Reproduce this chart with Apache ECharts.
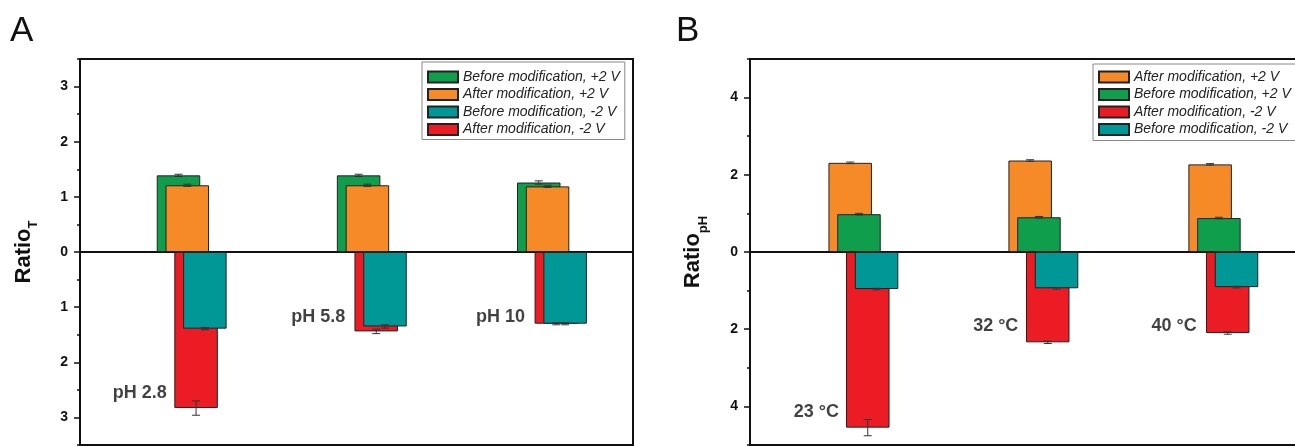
<!DOCTYPE html>
<html><head><meta charset="utf-8">
<script src="https://cdn.jsdelivr.net/npm/echarts@6/dist/echarts.min.js"></script>
<style>html,body{margin:0;padding:0;background:#fff}#c{width:1295px;height:446px}</style>
</head><body><div id="c"></div>
<script>
// ---------------- data ----------------
const groupPos = [1, 2, 3];
const categoriesA = ['pH 2.8', 'pH 5.8', 'pH 10'];
const categoriesB = ['23 °C', '32 °C', '40 °C'];
const NAME_BP = 'Before modification, +2 V';
const NAME_AP = 'After modification, +2 V';
const NAME_BM = 'Before modification, -2 V';
const NAME_AM = 'After modification, -2 V';

// Panel A: Ratio_T (negative = -2 V direction)
const A_beforePlus = [1.39, 1.39, 1.26];
const A_afterPlus = [1.21, 1.21, 1.19];
const A_afterMinus = [-2.83, -1.44, -1.30];
const A_beforeMinus = [-1.39, -1.35, -1.30];
const A_beforePlusErr = [0.02, 0.02, 0.03];
const A_afterPlusErr = [0.02, 0.02, 0.02];
const A_afterMinusErr = [0.13, 0.04, 0.02];
const A_beforeMinusErr = [0.02, 0.03, 0.02];

// Panel B: Ratio_pH
const B_afterPlus = [2.31, 2.37, 2.27];
const B_beforePlus = [0.98, 0.90, 0.88];
const B_afterMinus = [-4.55, -2.34, -2.10];
const B_beforeMinus = [-0.96, -0.94, -0.91];
const B_afterPlusErr = [0.02, 0.02, 0.02];
const B_beforePlusErr = [0.02, 0.02, 0.02];
const B_afterMinusErr = [0.21, 0.03, 0.03];
const B_beforeMinusErr = [0.02, 0.02, 0.02];

// tick values
const A_majorTicks = [-3, -2, -1, 0, 1, 2, 3];
const A_minorTicks = [-3.5, -2.5, -1.5, -0.5, 0.5, 1.5, 2.5, 3.5];
const B_majorTicks = [-4, -2, 0, 2, 4];
const B_minorTicks = [-5, -3, -1, 1, 3, 5];

// ---------------- style ----------------
const FONT = '"Liberation Sans", Arial, Helvetica, sans-serif';
const TXT = '#111';
const C_GREEN = '#0f9e4c', C_ORANGE = '#f58a26', C_TEAL = '#009797', C_RED = '#ec1c24';
const BAR_W = 43.5, BAR_STEP = 8.79;
const barGap = ((BAR_STEP - BAR_W) / BAR_W * 100).toFixed(2) + '%';
const total = BAR_W + 3 * BAR_STEP;
const offsetOf = k => -total / 2 + BAR_W / 2 + k * BAR_STEP;
const labelOffA = [[-24.5, -15.5], [-26, -14.5], [-26.5, -6.5]];
const labelOffB = [[-24, -15.5], [-24.5, -16.5], [-26, -7.5]];

function pairs(vals) { return vals.map((v, i) => [groupPos[i], v]); }

function bar(name, color, vals, p) {
  return {
    type: 'bar', name, xAxisIndex: p, yAxisIndex: p * 2,
    data: pairs(vals), barWidth: BAR_W, barGap: barGap,
    itemStyle: { color, borderColor: '#222', borderWidth: 1 }, z: 2, silent: true
  };
}
function errBar(vals, errs, k, p) {
  const off = offsetOf(k);
  return {
    type: 'custom', xAxisIndex: p, yAxisIndex: p * 2, z: 5, silent: true,
    data: vals.map((v, i) => [groupPos[i], v, errs[i]]),
    encode: { x: 0, y: 1 },
    renderItem: function (params, api) {
      const x = api.value(0), y = api.value(1), e = api.value(2);
      const hi = api.coord([x, y + e]), lo = api.coord([x, y - e]);
      const cx = hi[0] + off, w = 4;
      const st = { stroke: '#333', lineWidth: 1 };
      return { type: 'group', children: [
        { type: 'line', shape: { x1: cx, y1: hi[1], x2: cx, y2: lo[1] }, style: st },
        { type: 'line', shape: { x1: cx - w, y1: hi[1], x2: cx + w, y2: hi[1] }, style: st },
        { type: 'line', shape: { x1: cx - w, y1: lo[1], x2: cx + w, y2: lo[1] }, style: st }
      ]};
    }
  };
}
function labels(cats, vals, offs, p) {
  return {
    type: 'scatter', xAxisIndex: p, yAxisIndex: p * 2, z: 6, silent: true,
    symbolSize: 1, itemStyle: { color: 'rgba(0,0,0,0)' },
    data: vals.map((v, i) => ({
      value: [groupPos[i], v],
      label: { offset: offs[i] }
    })),
    label: {
      show: true, position: 'left', distance: 0,
      formatter: prm => cats[prm.dataIndex],
      fontFamily: FONT, fontSize: 18, fontWeight: 'bold', color: TXT
    }
  };
}
function yMain(p, min, max, ticks, sub, subPad) {
  return {
    type: 'value', gridIndex: p, position: 'left', min, max,
    name: 'Ratio{s|' + sub + '}', nameLocation: 'middle', nameGap: 40, nameRotate: 90,
    nameTextStyle: { fontFamily: FONT, fontSize: 22, fontWeight: 'bold', color: TXT,
      rich: { s: { fontFamily: FONT, fontSize: 13, fontWeight: 'bold', color: TXT, padding: subPad } } },
    axisLine: { show: true, onZero: false, lineStyle: { color: '#111', width: 2 } },
    axisTick: { show: true, length: 6, customValues: ticks, lineStyle: { color: '#111', width: 1.5 } },
    axisLabel: { show: true, customValues: ticks, margin: 12, formatter: v => String(Math.abs(v)),
      fontFamily: FONT, fontSize: 14, fontWeight: 'bold', color: TXT },
    splitLine: { show: false }
  };
}
function yMinor(p, min, max, ticks) {
  return {
    type: 'value', gridIndex: p, position: 'left', min, max,
    axisLine: { show: false },
    axisTick: { show: true, length: 3, customValues: ticks, lineStyle: { color: '#111', width: 1.5 } },
    axisLabel: { show: false }, splitLine: { show: false }
  };
}
function xAx(p, min, max) {
  return {
    type: 'value', gridIndex: p, min, max,
    axisLine: { show: true, onZero: true, lineStyle: { color: '#111', width: 2 } },
    axisTick: { show: false }, axisLabel: { show: false }, splitLine: { show: false }
  };
}
function legend(left, top, pad, names) {
  return {
    left, top, orient: 'vertical', padding: pad, itemGap: 3.5,
    itemWidth: 30, itemHeight: 11, icon: 'rect', selectedMode: false,
    backgroundColor: '#fff', borderColor: '#888', borderWidth: 1, borderRadius: 0,
    data: names,
    textStyle: { fontFamily: FONT, fontSize: 14, lineHeight: 14, fontStyle: 'italic', color: '#222' }
  };
}

const chart = echarts.init(document.getElementById('c'), null, { renderer: 'canvas' });
chart.setOption({
  animation: false,
  backgroundColor: '#fff',
  graphic: [
    { type: 'text', left: 10, top: 14, style: { text: 'A', font: 'normal 35px ' + FONT, fill: '#111' } },
    { type: 'text', left: 676, top: 14, style: { text: 'B', font: 'normal 35px ' + FONT, fill: '#111' } }
  ],
  grid: [
    { left: 80, top: 59, width: 553, height: 386, show: true, borderColor: '#111', borderWidth: 2, backgroundColor: '#fff', outerBoundsMode: 'none', containLabel: false },
    { left: 750, top: 59, width: 548, height: 386, show: true, borderColor: '#111', borderWidth: 2, backgroundColor: '#fff', outerBoundsMode: 'none', containLabel: false }
  ],
  xAxis: [xAx(0, 0.38, 3.45), xAx(1, 0.37, 3.415)],
  yAxis: [
    yMain(0, -3.5, 3.5, A_majorTicks, 'T', [20, 0, 0, 0]), yMinor(0, -3.5, 3.5, A_minorTicks),
    yMain(1, -5, 5, B_majorTicks, 'pH', [22, 0, 0, 0]), yMinor(1, -5, 5, B_minorTicks)
  ],
  legend: [
    legend(422, 62, [8, 5, 3, 5], [NAME_BP, NAME_AP, NAME_BM, NAME_AM]),
    legend(1093, 64, [6, 5, 4, 5], [NAME_AP, NAME_BP, NAME_AM, NAME_BM])
  ],
  series: [
    bar(NAME_BP, C_GREEN, A_beforePlus, 0),
    bar(NAME_AP, C_ORANGE, A_afterPlus, 0),
    bar(NAME_AM, C_RED, A_afterMinus, 0),
    bar(NAME_BM, C_TEAL, A_beforeMinus, 0),
    errBar(A_beforePlus, A_beforePlusErr, 0, 0),
    errBar(A_afterPlus, A_afterPlusErr, 1, 0),
    errBar(A_afterMinus, A_afterMinusErr, 2, 0),
    errBar(A_beforeMinus, A_beforeMinusErr, 3, 0),
    labels(categoriesA, A_afterMinus, labelOffA, 0),

    bar(NAME_AP, C_ORANGE, B_afterPlus, 1),
    bar(NAME_BP, C_GREEN, B_beforePlus, 1),
    bar(NAME_AM, C_RED, B_afterMinus, 1),
    bar(NAME_BM, C_TEAL, B_beforeMinus, 1),
    errBar(B_afterPlus, B_afterPlusErr, 0, 1),
    errBar(B_beforePlus, B_beforePlusErr, 1, 1),
    errBar(B_afterMinus, B_afterMinusErr, 2, 1),
    errBar(B_beforeMinus, B_beforeMinusErr, 3, 1),
    labels(categoriesB, B_afterMinus, labelOffB, 1)
  ]
});
</script></body></html>
